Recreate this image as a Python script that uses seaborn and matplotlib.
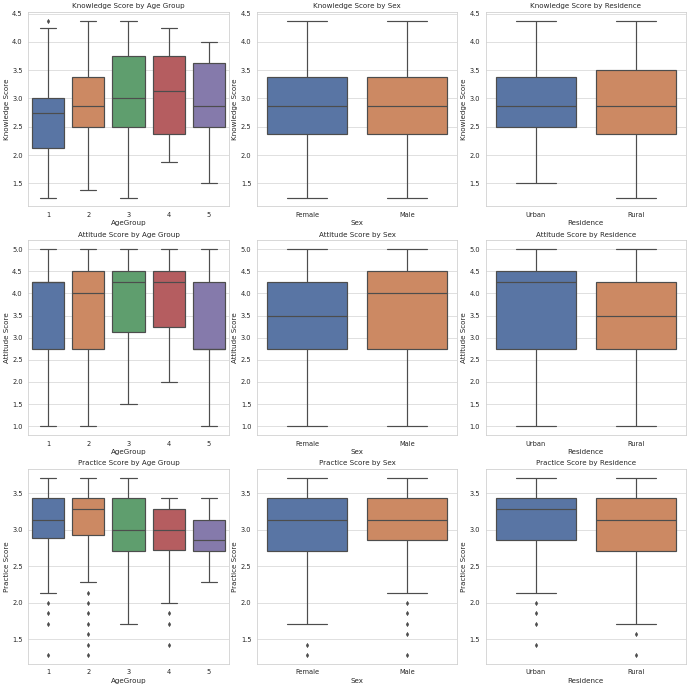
import numpy as np
import pandas as pd
import matplotlib
matplotlib.use("Agg")
import matplotlib.pyplot as plt
import seaborn as sns

# categories
age_groups = ["1", "2", "3", "4", "5"]
sexes = ["Female", "Male"]
residences = ["Urban", "Rural"]

# box summaries: whisker low, Q1, median, Q3, whisker high
knowledge_by_age = [
    [1.25, 2.125, 2.75, 3.0, 4.25],
    [1.375, 2.5, 2.875, 3.375, 4.375],
    [1.25, 2.5, 3.0, 3.75, 4.375],
    [1.875, 2.375, 3.125, 3.75, 4.25],
    [1.5, 2.5, 2.875, 3.625, 4.0],
]
knowledge_by_age_fliers = [[4.375], [], [], [], []]

knowledge_by_sex = [
    [1.25, 2.375, 2.875, 3.375, 4.375],
    [1.25, 2.375, 2.875, 3.375, 4.375],
]
knowledge_by_sex_fliers = [[], []]

knowledge_by_res = [
    [1.5, 2.5, 2.875, 3.375, 4.375],
    [1.25, 2.375, 2.875, 3.5, 4.375],
]
knowledge_by_res_fliers = [[], []]

attitude_by_age = [
    [1.0, 2.75, 4.25, 4.25, 5.0],
    [1.0, 2.75, 4.0, 4.5, 5.0],
    [1.5, 3.125, 4.25, 4.5, 5.0],
    [2.0, 3.25, 4.25, 4.5, 5.0],
    [1.0, 2.75, 2.75, 4.25, 5.0],
]
attitude_by_age_fliers = [[], [], [], [], []]

attitude_by_sex = [
    [1.0, 2.75, 3.5, 4.25, 5.0],
    [1.0, 2.75, 4.0, 4.5, 5.0],
]
attitude_by_sex_fliers = [[], []]

attitude_by_res = [
    [1.0, 2.75, 4.25, 4.5, 5.0],
    [1.0, 2.75, 3.5, 4.25, 5.0],
]
attitude_by_res_fliers = [[], []]

practice_by_age = [
    [2.14, 2.89, 3.14, 3.43, 3.71],
    [2.29, 2.93, 3.29, 3.43, 3.71],
    [1.71, 2.71, 3.0, 3.43, 3.71],
    [2.0, 2.72, 3.0, 3.28, 3.43],
    [2.29, 2.71, 2.86, 3.14, 3.43],
]
practice_by_age_fliers = [
    [2.0, 1.86, 1.71, 1.29],
    [2.14, 2.0, 1.86, 1.71, 1.57, 1.43, 1.29],
    [],
    [1.86, 1.71, 1.43],
    [],
]

practice_by_sex = [
    [1.71, 2.71, 3.14, 3.43, 3.71],
    [2.14, 2.86, 3.14, 3.43, 3.71],
]
practice_by_sex_fliers = [[1.43, 1.29], [2.0, 1.86, 1.71, 1.57, 1.29]]

practice_by_res = [
    [2.14, 2.86, 3.29, 3.43, 3.71],
    [1.71, 2.71, 3.14, 3.43, 3.71],
]
practice_by_res_fliers = [[2.0, 1.86, 1.71, 1.43], [1.57, 1.29]]


def expand(summary, fliers, k=10):
    # build a value list whose quartiles / whiskers equal the summary
    lo, q1, med, q3, hi = summary
    low_out = [f for f in fliers if f < q1]
    high_out = [f for f in fliers if f > q3]
    below = sorted(low_out) + [lo] * (k - len(low_out))
    above = [hi] * (k - len(high_out)) + sorted(high_out)
    return below + [q1] * k + [med] + [q3] * k + above


def make_df(cats, summaries, fliers, xname, yname):
    rows = []
    for c, s, f in zip(cats, summaries, fliers):
        for v in expand(s, f):
            rows.append({xname: c, yname: v})
    return pd.DataFrame(rows)


sns.set_theme(style="whitegrid")

panels = [
    ("Knowledge Score", "AgeGroup", age_groups, knowledge_by_age, knowledge_by_age_fliers, "Knowledge Score by Age Group"),
    ("Knowledge Score", "Sex", sexes, knowledge_by_sex, knowledge_by_sex_fliers, "Knowledge Score by Sex"),
    ("Knowledge Score", "Residence", residences, knowledge_by_res, knowledge_by_res_fliers, "Knowledge Score by Residence"),
    ("Attitude Score", "AgeGroup", age_groups, attitude_by_age, attitude_by_age_fliers, "Attitude Score by Age Group"),
    ("Attitude Score", "Sex", sexes, attitude_by_sex, attitude_by_sex_fliers, "Attitude Score by Sex"),
    ("Attitude Score", "Residence", residences, attitude_by_res, attitude_by_res_fliers, "Attitude Score by Residence"),
    ("Practice Score", "AgeGroup", age_groups, practice_by_age, practice_by_age_fliers, "Practice Score by Age Group"),
    ("Practice Score", "Sex", sexes, practice_by_sex, practice_by_sex_fliers, "Practice Score by Sex"),
    ("Practice Score", "Residence", residences, practice_by_res, practice_by_res_fliers, "Practice Score by Residence"),
]

fig, axes = plt.subplots(3, 3, figsize=(16, 16))

for ax, (yname, xname, cats, summ, fl, title) in zip(axes.flat, panels):
    df = make_df(cats, summ, fl, xname, yname)
    sns.boxplot(data=df, x=xname, y=yname, hue=xname, palette="deep",
                legend=False, ax=ax, width=0.8, linecolor=".3", linewidth=2.0,
                flierprops={"marker": "d", "markersize": 5,
                            "markerfacecolor": ".3", "markeredgecolor": ".3"})
    ax.set_title(title)

plt.tight_layout(pad=0.3)
plt.savefig("out.png", dpi=43)
